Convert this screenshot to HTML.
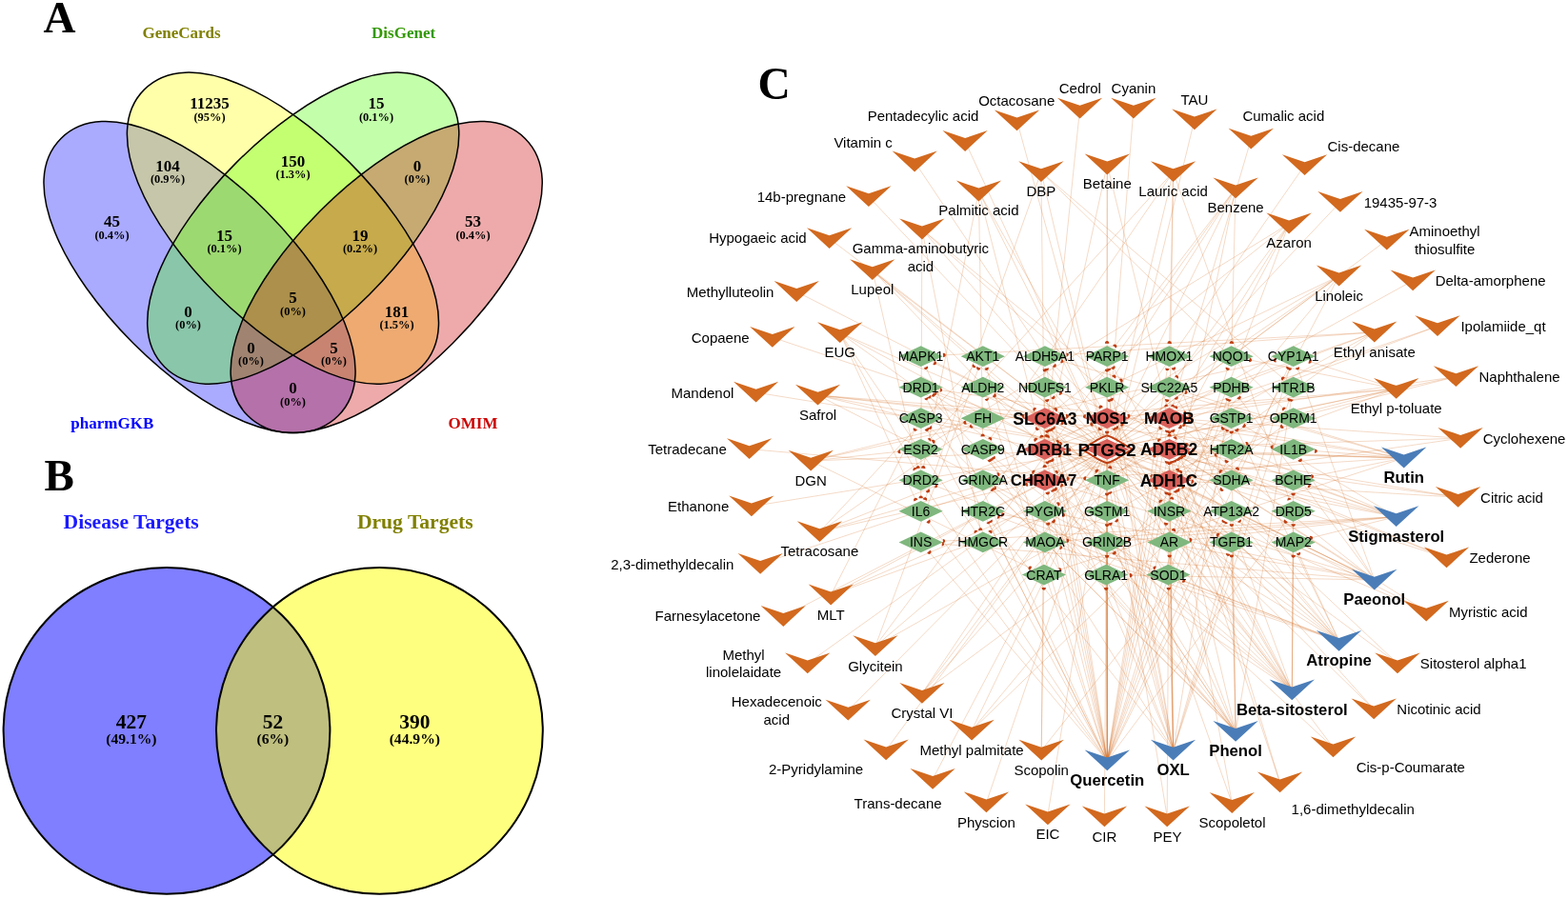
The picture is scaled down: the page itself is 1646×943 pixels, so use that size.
<!DOCTYPE html>
<html><head><meta charset="utf-8"><title>Figure</title>
<style>html,body{margin:0;padding:0;background:#fff;}svg{display:block;}</style></head>
<body><svg width="1646" height="943" viewBox="0 0 1646 943">
<rect width="1646" height="943" fill="#fff"/>
<path d="M-205.85 0C-205.85 -131.13 205.85 -131.13 205.85 0C205.85 131.13 -205.85 131.13 -205.85 0Z" transform="translate(209.52 291.0) rotate(45)" fill="#0000ff" fill-opacity="0.333" stroke="none"/>
<path d="M-205.85 0C-205.85 -131.13 205.85 -131.13 205.85 0C205.85 131.13 -205.85 131.13 -205.85 0Z" transform="translate(296.95 239.68) rotate(45)" fill="#ffff00" fill-opacity="0.333" stroke="none"/>
<path d="M-205.85 0C-205.85 -131.13 205.85 -131.13 205.85 0C205.85 131.13 -205.85 131.13 -205.85 0Z" transform="translate(318.25000000000006 239.68) rotate(-45)" fill="#4cff00" fill-opacity="0.333" stroke="none"/>
<path d="M-205.85 0C-205.85 -131.13 205.85 -131.13 205.85 0C205.85 131.13 -205.85 131.13 -205.85 0Z" transform="translate(405.68000000000006 291.0) rotate(-45)" fill="#cc0000" fill-opacity="0.333" stroke="none"/>
<path d="M-205.85 0C-205.85 -131.13 205.85 -131.13 205.85 0C205.85 131.13 -205.85 131.13 -205.85 0Z" transform="translate(209.52 291.0) rotate(45)" fill="none" stroke="#000" stroke-width="1.5"/>
<path d="M-205.85 0C-205.85 -131.13 205.85 -131.13 205.85 0C205.85 131.13 -205.85 131.13 -205.85 0Z" transform="translate(296.95 239.68) rotate(45)" fill="none" stroke="#000" stroke-width="1.5"/>
<path d="M-205.85 0C-205.85 -131.13 205.85 -131.13 205.85 0C205.85 131.13 -205.85 131.13 -205.85 0Z" transform="translate(318.25000000000006 239.68) rotate(-45)" fill="none" stroke="#000" stroke-width="1.5"/>
<path d="M-205.85 0C-205.85 -131.13 205.85 -131.13 205.85 0C205.85 131.13 -205.85 131.13 -205.85 0Z" transform="translate(405.68000000000006 291.0) rotate(-45)" fill="none" stroke="#000" stroke-width="1.5"/>
<text x="62.6" y="33.9" font-family='"Liberation Serif", "Times New Roman", Times, serif' font-size="47" font-weight="bold" fill="#000" text-anchor="middle">A</text>
<text x="62.2" y="514.9" font-family='"Liberation Serif", "Times New Roman", Times, serif' font-size="47" font-weight="bold" fill="#000" text-anchor="middle">B</text>
<text x="812.6" y="103.7" font-family='"Liberation Serif", "Times New Roman", Times, serif' font-size="47.5" font-weight="bold" fill="#000" text-anchor="middle">C</text>
<text x="190.5" y="39.7" font-family='"Liberation Serif", "Times New Roman", Times, serif' font-size="17" font-weight="bold" fill="#808000" text-anchor="middle">GeneCards</text>
<text x="423.6" y="39.7" font-family='"Liberation Serif", "Times New Roman", Times, serif' font-size="17" font-weight="bold" fill="#339900" text-anchor="middle">DisGenet</text>
<text x="117.8" y="449.6" font-family='"Liberation Serif", "Times New Roman", Times, serif' font-size="17" font-weight="bold" fill="#0000ff" text-anchor="middle">pharmGKB</text>
<text x="496.5" y="449.6" font-family='"Liberation Serif", "Times New Roman", Times, serif' font-size="17" font-weight="bold" fill="#cc0000" text-anchor="middle">OMIM</text>
<text x="220.0" y="113.8" font-family='"Liberation Serif", "Times New Roman", Times, serif' font-size="17" font-weight="bold" fill="#000" text-anchor="middle">11235</text>
<text x="220.0" y="126.6" font-family='"Liberation Serif", "Times New Roman", Times, serif' font-size="12.4" font-weight="bold" fill="#000" text-anchor="middle">(95%)</text>
<text x="395.0" y="113.8" font-family='"Liberation Serif", "Times New Roman", Times, serif' font-size="17" font-weight="bold" fill="#000" text-anchor="middle">15</text>
<text x="395.0" y="126.6" font-family='"Liberation Serif", "Times New Roman", Times, serif' font-size="12.4" font-weight="bold" fill="#000" text-anchor="middle">(0.1%)</text>
<text x="176.0" y="179.5" font-family='"Liberation Serif", "Times New Roman", Times, serif' font-size="17" font-weight="bold" fill="#000" text-anchor="middle">104</text>
<text x="176.0" y="192.3" font-family='"Liberation Serif", "Times New Roman", Times, serif' font-size="12.4" font-weight="bold" fill="#000" text-anchor="middle">(0.9%)</text>
<text x="307.5" y="174.5" font-family='"Liberation Serif", "Times New Roman", Times, serif' font-size="17" font-weight="bold" fill="#000" text-anchor="middle">150</text>
<text x="307.5" y="187.3" font-family='"Liberation Serif", "Times New Roman", Times, serif' font-size="12.4" font-weight="bold" fill="#000" text-anchor="middle">(1.3%)</text>
<text x="438.0" y="179.5" font-family='"Liberation Serif", "Times New Roman", Times, serif' font-size="17" font-weight="bold" fill="#000" text-anchor="middle">0</text>
<text x="438.0" y="192.3" font-family='"Liberation Serif", "Times New Roman", Times, serif' font-size="12.4" font-weight="bold" fill="#000" text-anchor="middle">(0%)</text>
<text x="117.5" y="238.0" font-family='"Liberation Serif", "Times New Roman", Times, serif' font-size="17" font-weight="bold" fill="#000" text-anchor="middle">45</text>
<text x="117.5" y="250.8" font-family='"Liberation Serif", "Times New Roman", Times, serif' font-size="12.4" font-weight="bold" fill="#000" text-anchor="middle">(0.4%)</text>
<text x="235.5" y="252.5" font-family='"Liberation Serif", "Times New Roman", Times, serif' font-size="17" font-weight="bold" fill="#000" text-anchor="middle">15</text>
<text x="235.5" y="265.3" font-family='"Liberation Serif", "Times New Roman", Times, serif' font-size="12.4" font-weight="bold" fill="#000" text-anchor="middle">(0.1%)</text>
<text x="378.0" y="252.5" font-family='"Liberation Serif", "Times New Roman", Times, serif' font-size="17" font-weight="bold" fill="#000" text-anchor="middle">19</text>
<text x="378.0" y="265.3" font-family='"Liberation Serif", "Times New Roman", Times, serif' font-size="12.4" font-weight="bold" fill="#000" text-anchor="middle">(0.2%)</text>
<text x="496.5" y="238.0" font-family='"Liberation Serif", "Times New Roman", Times, serif' font-size="17" font-weight="bold" fill="#000" text-anchor="middle">53</text>
<text x="496.5" y="250.8" font-family='"Liberation Serif", "Times New Roman", Times, serif' font-size="12.4" font-weight="bold" fill="#000" text-anchor="middle">(0.4%)</text>
<text x="307.5" y="318.0" font-family='"Liberation Serif", "Times New Roman", Times, serif' font-size="17" font-weight="bold" fill="#000" text-anchor="middle">5</text>
<text x="307.5" y="330.8" font-family='"Liberation Serif", "Times New Roman", Times, serif' font-size="12.4" font-weight="bold" fill="#000" text-anchor="middle">(0%)</text>
<text x="197.5" y="332.5" font-family='"Liberation Serif", "Times New Roman", Times, serif' font-size="17" font-weight="bold" fill="#000" text-anchor="middle">0</text>
<text x="197.5" y="345.3" font-family='"Liberation Serif", "Times New Roman", Times, serif' font-size="12.4" font-weight="bold" fill="#000" text-anchor="middle">(0%)</text>
<text x="416.5" y="332.5" font-family='"Liberation Serif", "Times New Roman", Times, serif' font-size="17" font-weight="bold" fill="#000" text-anchor="middle">181</text>
<text x="416.5" y="345.3" font-family='"Liberation Serif", "Times New Roman", Times, serif' font-size="12.4" font-weight="bold" fill="#000" text-anchor="middle">(1.5%)</text>
<text x="263.5" y="370.5" font-family='"Liberation Serif", "Times New Roman", Times, serif' font-size="17" font-weight="bold" fill="#000" text-anchor="middle">0</text>
<text x="263.5" y="383.3" font-family='"Liberation Serif", "Times New Roman", Times, serif' font-size="12.4" font-weight="bold" fill="#000" text-anchor="middle">(0%)</text>
<text x="350.5" y="370.5" font-family='"Liberation Serif", "Times New Roman", Times, serif' font-size="17" font-weight="bold" fill="#000" text-anchor="middle">5</text>
<text x="350.5" y="383.3" font-family='"Liberation Serif", "Times New Roman", Times, serif' font-size="12.4" font-weight="bold" fill="#000" text-anchor="middle">(0%)</text>
<text x="307.5" y="413.0" font-family='"Liberation Serif", "Times New Roman", Times, serif' font-size="17" font-weight="bold" fill="#000" text-anchor="middle">0</text>
<text x="307.5" y="425.8" font-family='"Liberation Serif", "Times New Roman", Times, serif' font-size="12.4" font-weight="bold" fill="#000" text-anchor="middle">(0%)</text>
<circle cx="175" cy="767.4" r="171.4" fill="#0000ff" fill-opacity="0.5"/>
<circle cx="398.4" cy="767.4" r="171.4" fill="#ffff00" fill-opacity="0.5"/>
<circle cx="175" cy="767.4" r="171.4" fill="none" stroke="#000" stroke-width="2"/>
<circle cx="398.4" cy="767.4" r="171.4" fill="none" stroke="#000" stroke-width="2"/>
<text x="137.7" y="555.3" font-family='"Liberation Serif", "Times New Roman", Times, serif' font-size="21.6" font-weight="bold" fill="#1a1aff" text-anchor="middle">Disease Targets</text>
<text x="435.8" y="555.3" font-family='"Liberation Serif", "Times New Roman", Times, serif' font-size="21.6" font-weight="bold" fill="#808000" text-anchor="middle">Drug Targets</text>
<text x="137.9" y="764.9" font-family='"Liberation Serif", "Times New Roman", Times, serif' font-size="21.4" font-weight="bold" fill="#000" text-anchor="middle">427</text>
<text x="137.9" y="781.0" font-family='"Liberation Serif", "Times New Roman", Times, serif' font-size="15.6" font-weight="bold" fill="#000" text-anchor="middle">(49.1%)</text>
<text x="286.4" y="764.9" font-family='"Liberation Serif", "Times New Roman", Times, serif' font-size="21.4" font-weight="bold" fill="#000" text-anchor="middle">52</text>
<text x="286.4" y="781.0" font-family='"Liberation Serif", "Times New Roman", Times, serif' font-size="15.6" font-weight="bold" fill="#000" text-anchor="middle">(6%)</text>
<text x="435.3" y="764.9" font-family='"Liberation Serif", "Times New Roman", Times, serif' font-size="21.4" font-weight="bold" fill="#000" text-anchor="middle">390</text>
<text x="435.3" y="781.0" font-family='"Liberation Serif", "Times New Roman", Times, serif' font-size="15.6" font-weight="bold" fill="#000" text-anchor="middle">(44.9%)</text>
<g fill="none" stroke="#D2691E" stroke-opacity="0.42" stroke-width="0.6">
<path d="M1067.5 126.7L1158.5 458.7"/>
<path d="M1133.6 114.0L1098.3 457.8"/>
<path d="M1189.9 114.0L1163.2 457.7"/>
<path d="M1253.9 125.8L1165.3 491.0"/>
<path d="M1313.3 146.1L1231.2 426.2"/>
<path d="M1369.6 173.5L1169.9 460.6"/>
<path d="M1406.9 212.3L1171.7 461.6"/>
<path d="M1455.8 252.1L1173.9 463.0"/>
<path d="M1483.2 294.7L1175.9 464.2"/>
<path d="M1509.0 342.5L1244.2 433.4M1509.0 342.5L1178.4 465.7"/>
<path d="M1528.4 395.6L1245.9 467.1M1528.4 395.6L1248.6 436.1M1528.4 395.6L1181.7 467.7"/>
<path d="M1533.1 460.2L1248.7 501.2M1533.1 460.2L1251.2 440.8M1533.1 460.2L1187.4 471.0"/>
<path d="M1530.6 522.2L1251.5 505.7M1530.6 522.2L1248.0 475.2M1530.6 522.2L1183.6 474.7"/>
<path d="M1518.5 585.8L1243.4 478.1M1518.5 585.8L1177.8 445.6M1518.5 585.8L1179.3 477.3"/>
<path d="M1497.2 642.0L1112.4 478.4M1497.2 642.0L1240.3 480.0M1497.2 642.0L1176.4 479.1"/>
<path d="M1467.0 696.7L1237.8 481.5M1467.0 696.7L1174.0 480.6"/>
<path d="M1442.2 744.8L1236.6 514.7M1442.2 744.8L1172.2 481.7"/>
<path d="M1399.5 784.8L1107.3 514.0M1399.5 784.8L1170.4 482.7"/>
<path d="M1343.6 821.7L1231.7 484.6M1343.6 821.7L1231.3 452.2"/>
<path d="M1293.3 843.4L1229.8 485.4M1293.3 843.4L1166.6 484.5"/>
<path d="M1225.2 857.7L1227.3 486.3M1225.2 857.7L1164.3 485.5"/>
<path d="M1159.4 857.7L1162.0 486.3"/>
<path d="M1099.9 855.8L1159.9 485.5"/>
<path d="M1035.4 842.7L1157.7 484.6"/>
<path d="M979.1 818.2L1155.8 483.7"/>
<path d="M930.1 787.7L1154.0 482.8"/>
<path d="M890.3 746.0L1152.2 481.8"/>
<path d="M847.7 696.7L1150.0 480.5"/>
<path d="M822.3 647.4L1147.9 479.2"/>
<path d="M798.1 592.2L1145.1 477.4"/>
<path d="M788.9 531.7L1141.3 475.1"/>
<path d="M786.6 471.6L1139.0 502.3"/>
<path d="M793.6 412.1L1141.4 468.4"/>
<path d="M810.8 354.3L1145.2 466.1"/>
<path d="M836.2 306.4L1147.8 464.5"/>
<path d="M870.6 250.5L1150.4 462.9"/>
<path d="M911.9 206.6L1152.5 461.6"/>
<path d="M960.1 169.9L1154.6 460.5"/>
<path d="M1013.1 148.4L1156.5 459.6"/>
<path d="M1092.9 180.5L1096.7 489.9M1092.9 180.5L1346.7 397.3M1092.9 180.5L971.1 524.1M1092.9 180.5L1347.6 429.3M1092.9 180.5L1158.9 458.5"/>
<path d="M1162.3 172.9L1099.8 458.4M1162.3 172.9L1224.2 425.9M1162.3 172.9L1162.1 359.7M1162.3 172.9L1162.1 457.3"/>
<path d="M1231.6 180.5L1227.6 457.4M1231.6 180.5L1039.5 460.6M1231.6 180.5L1353.2 524.1M1231.6 180.5L976.0 461.5M1231.6 180.5L1227.7 359.8M1231.6 180.5L1165.3 458.5"/>
<path d="M1297.1 197.7L1039.7 558.3M1297.1 197.7L1230.2 523.3M1297.1 197.7L1293.0 359.8M1297.1 197.7L1170.4 363.3M1297.1 197.7L1169.4 395.3M1297.1 197.7L1168.0 459.7"/>
<path d="M1353.1 234.9L1233.7 459.9M1353.1 234.9L1232.1 556.8M1353.1 234.9L979.7 463.8M1353.1 234.9L1234.5 427.7M1353.1 234.9L1235.5 395.7M1353.1 234.9L1108.3 430.1"/>
<path d="M1405.6 289.9L1236.2 493.7M1405.6 289.9L1110.3 463.9M1405.6 289.9L1109.2 495.8M1405.6 289.9L1176.8 399.6M1405.6 289.9L1173.9 463.0M1405.6 289.9L1298.9 492.4"/>
<path d="M1442.8 348.9L1239.5 495.6M1442.8 348.9L1113.5 465.9M1442.8 348.9L1120.5 372.5M1442.8 348.9L1048.0 498.2M1442.8 348.9L991.0 372.9M1442.8 348.9L1110.8 529.2"/>
<path d="M1465.7 408.3L1115.3 499.5M1465.7 408.3L1375.0 379.7M1465.7 408.3L1309.0 465.8M1465.7 408.3L1184.7 436.9M1465.7 408.3L1312.4 378.1M1465.7 408.3L1181.6 467.7M1465.7 408.3L1120.1 437.3"/>
<path d="M1027.4 200.9L1093.5 458.6M1027.4 200.9L1031.6 457.4M1027.4 200.9L969.3 490.8M1027.4 200.9L1155.5 427.5M1027.4 200.9L1156.1 459.7"/>
<path d="M967.9 240.9L1216.7 462.3M967.9 240.9L1029.2 555.9M967.9 240.9L966.7 522.3M967.9 240.9L1218.3 526.4M967.9 240.9L1281.3 495.1"/>
<path d="M915.8 283.5L1087.2 461.7M915.8 283.5L963.5 491.0M915.8 283.5L1150.4 462.9M915.8 283.5L1086.0 429.8M915.8 283.5L1151.5 494.8"/>
<path d="M881.7 349.5L1084.8 495.6M881.7 349.5L960.1 492.5M881.7 349.5L1024.1 558.2M881.7 349.5L961.0 524.5M881.7 349.5L1146.8 465.1M881.7 349.5L1278.6 561.9"/>
<path d="M858.5 415.0L1208.6 499.8M858.5 415.0L1335.5 469.3M858.5 415.0L1138.7 437.3M858.5 415.0L1142.0 468.0M858.5 415.0L1074.3 436.9M858.5 415.0L1212.1 596.3"/>
<path d="M851.2 484.0L1081.3 596.5M851.2 484.0L1338.4 378.4M851.2 484.0L944.1 474.2M851.2 484.0L1013.2 443.8M851.2 484.0L1137.2 472.8"/>
<path d="M860.4 558.5L1022.3 384.4M860.4 558.5L1077.8 508.7M860.4 558.5L1019.5 447.8M860.4 558.5L1146.2 445.5M860.4 558.5L1144.3 476.9"/>
<path d="M872.2 624.9L1212.0 478.4M872.2 624.9L960.5 451.2M872.2 624.9L1276.2 477.8M872.2 624.9L1148.0 479.2"/>
<path d="M918.9 678.6L1213.8 512.0M918.9 678.6L1027.1 386.9M918.9 678.6L1151.1 481.1M918.9 678.6L1088.8 450.2"/>
<path d="M967.9 728.2L1218.1 449.5M967.9 728.2L1154.5 450.5M967.9 728.2L1345.8 448.0M967.9 728.2L1153.8 482.7"/>
<path d="M1020.1 767.0L1283.8 449.8M1020.1 767.0L1156.3 483.9M1020.1 767.0L1282.4 514.1"/>
<path d="M1093.2 788.0L1096.8 388.7M1093.2 788.0L1284.1 547.5M1093.2 788.0L1095.7 618.0"/>
<path d="M1473.7 480.9L1122.5 472.4M1473.7 480.9L1252.4 472.7M1473.7 480.9L1114.8 379.3M1473.7 480.9L1377.4 500.3M1473.7 480.9L1120.9 502.8M1473.7 480.9L1113.0 598.0M1473.7 480.9L987.8 409.8M1473.7 480.9L1381.1 473.6M1473.7 480.9L1247.9 442.7M1473.7 480.9L1187.5 472.5M1473.7 480.9L1244.9 412.0"/>
<path d="M1465.7 542.6L1116.9 475.6M1465.7 542.6L1249.6 566.9M1465.7 542.6L1374.3 510.2M1465.7 542.6L1185.1 567.4M1465.7 542.6L1305.9 447.1M1465.7 542.6L990.9 568.1M1465.7 542.6L1120.5 567.7M1465.7 542.6L1242.7 445.9M1465.7 542.6L1376.3 564.8M1465.7 542.6L1113.2 412.7M1465.7 542.6L1181.1 476.2M1465.7 542.6L1114.9 444.2"/>
<path d="M1442.8 609.0L1242.0 511.4M1442.8 609.0L1240.3 480.0M1442.8 609.0L1114.4 509.6M1442.8 609.0L1362.3 386.9M1442.8 609.0L982.1 413.3M1442.8 609.0L1186.9 604.1M1442.8 609.0L1052.2 540.4M1442.8 609.0L1364.8 483.3M1442.8 609.0L989.8 571.3M1442.8 609.0L1238.9 448.2M1442.8 609.0L981.1 381.4M1442.8 609.0L1300.7 417.7M1442.8 609.0L1176.7 478.9M1442.8 609.0L1116.4 540.9"/>
<path d="M1405.6 673.2L1236.6 482.2M1405.6 673.2L1043.9 415.3M1405.6 673.2L1107.1 384.0M1405.6 673.2L1301.4 547.4M1405.6 673.2L979.8 414.7M1405.6 673.2L982.7 510.5M1405.6 673.2L1298.5 451.3M1405.6 673.2L1048.2 542.8M1405.6 673.2L1113.8 575.1M1405.6 673.2L1363.3 581.6M1405.6 673.2L1172.3 449.0M1405.6 673.2L1173.3 481.0M1405.6 673.2L1234.9 418.0M1405.6 673.2L1242.4 609.8"/>
<path d="M1356.3 724.7L1234.2 516.0M1356.3 724.7L1233.5 483.8M1356.3 724.7L1357.6 518.8M1356.3 724.7L1043.4 480.8M1356.3 724.7L1107.9 513.6M1356.3 724.7L1357.6 551.3M1356.3 724.7L1044.2 512.8M1356.3 724.7L1172.3 546.6M1356.3 724.7L1232.1 386.9M1356.3 724.7L1357.6 583.9M1356.3 724.7L1105.6 417.4M1356.3 724.7L1169.7 450.4M1356.3 724.7L1168.6 386.0M1356.3 724.7L1170.4 482.7M1356.3 724.7L1106.3 449.5"/>
<path d="M1297.1 768.3L1104.5 483.0M1297.1 768.3L1230.5 485.1M1297.1 768.3L1292.9 551.2M1297.1 768.3L976.6 449.1M1297.1 768.3L1041.1 482.1M1297.1 768.3L1105.2 515.2M1297.1 768.3L976.0 417.0M1297.1 768.3L1041.8 514.2M1297.1 768.3L1169.7 580.6M1297.1 768.3L1292.8 453.6M1297.1 768.3L1355.4 420.4M1297.1 768.3L1166.8 419.3M1297.1 768.3L1167.7 484.0M1297.1 768.3L1105.9 547.3M1297.1 768.3L1103.9 450.7M1297.1 768.3L1292.9 583.8"/>
<path d="M1231.6 788.0L1227.6 518.7M1231.6 788.0L1102.2 484.2M1231.6 788.0L1227.6 486.2M1231.6 788.0L1227.7 583.8M1231.6 788.0L1039.0 483.2M1231.6 788.0L1353.7 387.2M1231.6 788.0L1165.7 549.9M1231.6 788.0L1353.5 419.5M1231.6 788.0L1040.3 547.5M1231.6 788.0L1227.6 453.6M1231.6 788.0L1164.4 387.8M1231.6 788.0L1290.4 420.4M1231.6 788.0L1164.6 420.3M1231.6 788.0L1165.0 485.2M1231.6 788.0L1101.8 451.8M1231.6 788.0L1226.8 618.0M1231.6 788.0L1288.9 582.5M1231.6 788.0L1165.4 517.6"/>
<path d="M1162.3 798.8L1224.4 517.7M1162.3 798.8L1099.6 485.3M1162.3 798.8L1224.7 485.3M1162.3 798.8L1035.8 387.2M1162.3 798.8L1036.1 419.5M1162.3 798.8L1099.0 387.9M1162.3 798.8L1286.6 548.9M1162.3 798.8L973.0 451.0M1162.3 798.8L1099.9 517.7M1162.3 798.8L1352.1 386.4M1162.3 798.8L972.6 418.7M1162.3 798.8L974.1 515.6M1162.3 798.8L1349.5 547.7M1162.3 798.8L1161.2 618.1M1162.3 798.8L1162.1 583.9M1162.3 798.8L1162.1 551.3M1162.3 798.8L1288.0 451.9M1162.3 798.8L1225.3 387.9M1162.3 798.8L1287.6 484.3M1162.3 798.8L1037.8 548.8M1162.3 798.8L974.8 547.7M1162.3 798.8L975.6 579.9M1162.3 798.8L1224.1 550.0M1162.3 798.8L1224.9 452.8M1162.3 798.8L972.2 386.4M1162.3 798.8L1099.2 420.4M1162.3 798.8L1162.1 453.7M1162.3 798.8L1288.6 387.2M1162.3 798.8L1162.1 388.7M1162.3 798.8L1288.3 419.5M1162.3 798.8L1162.1 486.3M1162.3 798.8L1100.2 550.0M1162.3 798.8L1225.1 420.4M1162.3 798.8L1099.4 452.8M1162.3 798.8L1162.1 518.8"/>
</g>
<path d="M1043.8 115.4L1067.5 123.4L1091.2 115.4L1067.5 137.2Z" fill="#D2691E"/>
<path d="M1109.9 102.7L1133.6 110.7L1157.2 102.7L1133.6 124.5Z" fill="#D2691E"/>
<path d="M1166.2 102.7L1189.9 110.7L1213.6 102.7L1189.9 124.5Z" fill="#D2691E"/>
<path d="M1230.2 114.5L1253.9 122.5L1277.6 114.5L1253.9 136.3Z" fill="#D2691E"/>
<path d="M1289.6 134.8L1313.3 142.8L1337.0 134.8L1313.3 156.6Z" fill="#D2691E"/>
<path d="M1345.9 162.2L1369.6 170.2L1393.2 162.2L1369.6 184.0Z" fill="#D2691E"/>
<path d="M1383.2 201.0L1406.9 209.0L1430.6 201.0L1406.9 222.8Z" fill="#D2691E"/>
<path d="M1432.1 240.8L1455.8 248.8L1479.5 240.8L1455.8 262.6Z" fill="#D2691E"/>
<path d="M1459.5 283.4L1483.2 291.4L1506.9 283.4L1483.2 305.2Z" fill="#D2691E"/>
<path d="M1485.3 331.2L1509.0 339.2L1532.7 331.2L1509.0 353.0Z" fill="#D2691E"/>
<path d="M1504.8 384.3L1528.4 392.3L1552.1 384.3L1528.4 406.1Z" fill="#D2691E"/>
<path d="M1509.4 448.9L1533.1 456.9L1556.8 448.9L1533.1 470.7Z" fill="#D2691E"/>
<path d="M1506.9 510.9L1530.6 518.9L1554.2 510.9L1530.6 532.7Z" fill="#D2691E"/>
<path d="M1494.8 574.5L1518.5 582.5L1542.2 574.5L1518.5 596.3Z" fill="#D2691E"/>
<path d="M1473.5 630.7L1497.2 638.7L1520.9 630.7L1497.2 652.5Z" fill="#D2691E"/>
<path d="M1443.3 685.4L1467.0 693.4L1490.7 685.4L1467.0 707.2Z" fill="#D2691E"/>
<path d="M1418.5 733.5L1442.2 741.5L1465.9 733.5L1442.2 755.3Z" fill="#D2691E"/>
<path d="M1375.8 773.5L1399.5 781.5L1423.2 773.5L1399.5 795.3Z" fill="#D2691E"/>
<path d="M1319.9 810.4L1343.6 818.4L1367.2 810.4L1343.6 832.2Z" fill="#D2691E"/>
<path d="M1269.6 832.1L1293.3 840.1L1317.0 832.1L1293.3 853.9Z" fill="#D2691E"/>
<path d="M1201.5 846.4L1225.2 854.4L1248.9 846.4L1225.2 868.2Z" fill="#D2691E"/>
<path d="M1135.8 846.4L1159.4 854.4L1183.1 846.4L1159.4 868.2Z" fill="#D2691E"/>
<path d="M1076.2 844.5L1099.9 852.5L1123.6 844.5L1099.9 866.3Z" fill="#D2691E"/>
<path d="M1011.8 831.4L1035.4 839.4L1059.1 831.4L1035.4 853.2Z" fill="#D2691E"/>
<path d="M955.5 806.9L979.1 814.9L1002.8 806.9L979.1 828.7Z" fill="#D2691E"/>
<path d="M906.5 776.4L930.1 784.4L953.8 776.4L930.1 798.2Z" fill="#D2691E"/>
<path d="M866.6 734.7L890.3 742.7L913.9 734.7L890.3 756.5Z" fill="#D2691E"/>
<path d="M824.1 685.4L847.7 693.4L871.4 685.4L847.7 707.2Z" fill="#D2691E"/>
<path d="M798.6 636.1L822.3 644.1L845.9 636.1L822.3 657.9Z" fill="#D2691E"/>
<path d="M774.5 580.9L798.1 588.9L821.8 580.9L798.1 602.7Z" fill="#D2691E"/>
<path d="M765.2 520.4L788.9 528.4L812.5 520.4L788.9 542.2Z" fill="#D2691E"/>
<path d="M763.0 460.3L786.6 468.3L810.2 460.3L786.6 482.1Z" fill="#D2691E"/>
<path d="M770.0 400.8L793.6 408.8L817.2 400.8L793.6 422.6Z" fill="#D2691E"/>
<path d="M787.1 343.0L810.8 351.0L834.4 343.0L810.8 364.8Z" fill="#D2691E"/>
<path d="M812.6 295.1L836.2 303.1L859.9 295.1L836.2 316.9Z" fill="#D2691E"/>
<path d="M847.0 239.2L870.6 247.2L894.2 239.2L870.6 261.0Z" fill="#D2691E"/>
<path d="M888.2 195.3L911.9 203.3L935.5 195.3L911.9 217.1Z" fill="#D2691E"/>
<path d="M936.5 158.6L960.1 166.6L983.8 158.6L960.1 180.4Z" fill="#D2691E"/>
<path d="M989.5 137.1L1013.1 145.1L1036.8 137.1L1013.1 158.9Z" fill="#D2691E"/>
<path d="M1069.2 169.2L1092.9 177.2L1116.6 169.2L1092.9 191.0Z" fill="#D2691E"/>
<path d="M1138.6 161.6L1162.3 169.6L1186.0 161.6L1162.3 183.4Z" fill="#D2691E"/>
<path d="M1207.9 169.2L1231.6 177.2L1255.2 169.2L1231.6 191.0Z" fill="#D2691E"/>
<path d="M1273.4 186.4L1297.1 194.4L1320.8 186.4L1297.1 208.2Z" fill="#D2691E"/>
<path d="M1329.4 223.6L1353.1 231.6L1376.8 223.6L1353.1 245.4Z" fill="#D2691E"/>
<path d="M1381.9 278.6L1405.6 286.6L1429.2 278.6L1405.6 300.4Z" fill="#D2691E"/>
<path d="M1419.1 337.6L1442.8 345.6L1466.5 337.6L1442.8 359.4Z" fill="#D2691E"/>
<path d="M1442.0 397.0L1465.7 405.0L1489.4 397.0L1465.7 418.8Z" fill="#D2691E"/>
<path d="M1450.0 469.6L1473.7 477.6L1497.4 469.6L1473.7 491.4Z" fill="#4A7DB8"/>
<path d="M1442.0 531.3L1465.7 539.3L1489.4 531.3L1465.7 553.1Z" fill="#4A7DB8"/>
<path d="M1419.1 597.7L1442.8 605.7L1466.5 597.7L1442.8 619.5Z" fill="#4A7DB8"/>
<path d="M1381.9 661.9L1405.6 669.9L1429.2 661.9L1405.6 683.7Z" fill="#4A7DB8"/>
<path d="M1332.6 713.4L1356.3 721.4L1380.0 713.4L1356.3 735.2Z" fill="#4A7DB8"/>
<path d="M1273.4 757.0L1297.1 765.0L1320.8 757.0L1297.1 778.8Z" fill="#4A7DB8"/>
<path d="M1207.9 776.7L1231.6 784.7L1255.2 776.7L1231.6 798.5Z" fill="#4A7DB8"/>
<path d="M1138.6 787.5L1162.3 795.5L1186.0 787.5L1162.3 809.3Z" fill="#4A7DB8"/>
<path d="M1069.5 776.7L1093.2 784.7L1116.9 776.7L1093.2 798.5Z" fill="#D2691E"/>
<path d="M996.5 755.7L1020.1 763.7L1043.8 755.7L1020.1 777.5Z" fill="#D2691E"/>
<path d="M944.2 716.9L967.9 724.9L991.5 716.9L967.9 738.7Z" fill="#D2691E"/>
<path d="M895.2 667.3L918.9 675.3L942.5 667.3L918.9 689.1Z" fill="#D2691E"/>
<path d="M848.6 613.6L872.2 621.6L895.9 613.6L872.2 635.4Z" fill="#D2691E"/>
<path d="M836.8 547.2L860.4 555.2L884.0 547.2L860.4 569.0Z" fill="#D2691E"/>
<path d="M827.6 472.7L851.2 480.7L874.9 472.7L851.2 494.5Z" fill="#D2691E"/>
<path d="M834.9 403.7L858.5 411.7L882.1 403.7L858.5 425.5Z" fill="#D2691E"/>
<path d="M858.1 338.2L881.7 346.2L905.4 338.2L881.7 360.0Z" fill="#D2691E"/>
<path d="M892.1 272.2L915.8 280.2L939.4 272.2L915.8 294.0Z" fill="#D2691E"/>
<path d="M944.2 229.6L967.9 237.6L991.5 229.6L967.9 251.4Z" fill="#D2691E"/>
<path d="M1003.8 189.6L1027.4 197.6L1051.1 189.6L1027.4 211.4Z" fill="#D2691E"/>
<path d="M943.5 374.2L966.6 363.3L989.7 374.2L966.6 385.1Z" fill="#7FB77E"/>
<path d="M1008.7 374.2L1031.8 363.3L1054.9 374.2L1031.8 385.1Z" fill="#7FB77E"/>
<path d="M1073.8 374.2L1096.9 363.3L1120.0 374.2L1096.9 385.1Z" fill="#7FB77E"/>
<path d="M1139.0 374.2L1162.1 363.3L1185.2 374.2L1162.1 385.1Z" fill="#7FB77E"/>
<path d="M1204.3 374.2L1227.4 363.3L1250.5 374.2L1227.4 385.1Z" fill="#7FB77E"/>
<path d="M1269.5 374.2L1292.6 363.3L1315.7 374.2L1292.6 385.1Z" fill="#7FB77E"/>
<path d="M1334.6 374.2L1357.7 363.3L1380.8 374.2L1357.7 385.1Z" fill="#7FB77E"/>
<path d="M943.5 406.7L966.6 395.8L989.7 406.7L966.6 417.6Z" fill="#7FB77E"/>
<path d="M1008.7 406.7L1031.8 395.8L1054.9 406.7L1031.8 417.6Z" fill="#7FB77E"/>
<path d="M1073.8 406.7L1096.9 395.8L1120.0 406.7L1096.9 417.6Z" fill="#7FB77E"/>
<path d="M1139.0 406.7L1162.1 395.8L1185.2 406.7L1162.1 417.6Z" fill="#7FB77E"/>
<path d="M1204.3 406.7L1227.4 395.8L1250.5 406.7L1227.4 417.6Z" fill="#7FB77E"/>
<path d="M1269.5 406.7L1292.6 395.8L1315.7 406.7L1292.6 417.6Z" fill="#7FB77E"/>
<path d="M1334.6 406.7L1357.7 395.8L1380.8 406.7L1357.7 417.6Z" fill="#7FB77E"/>
<path d="M943.5 439.2L966.6 428.3L989.7 439.2L966.6 450.1Z" fill="#7FB77E"/>
<path d="M1008.7 439.2L1031.8 428.3L1054.9 439.2L1031.8 450.1Z" fill="#7FB77E"/>
<path d="M1073.8 439.2L1096.9 428.3L1120.0 439.2L1096.9 450.1Z" fill="#D9605A"/>
<path d="M1139.0 439.2L1162.1 428.3L1185.2 439.2L1162.1 450.1Z" fill="#D9605A"/>
<path d="M1204.3 439.2L1227.4 428.3L1250.5 439.2L1227.4 450.1Z" fill="#D9605A"/>
<path d="M1269.5 439.2L1292.6 428.3L1315.7 439.2L1292.6 450.1Z" fill="#7FB77E"/>
<path d="M1334.6 439.2L1357.7 428.3L1380.8 439.2L1357.7 450.1Z" fill="#7FB77E"/>
<path d="M943.5 471.8L966.6 460.9L989.7 471.8L966.6 482.7Z" fill="#7FB77E"/>
<path d="M1008.7 471.8L1031.8 460.9L1054.9 471.8L1031.8 482.7Z" fill="#7FB77E"/>
<path d="M1073.8 471.8L1096.9 460.9L1120.0 471.8L1096.9 482.7Z" fill="#D9605A"/>
<path d="M1139.0 471.8L1162.1 460.9L1185.2 471.8L1162.1 482.7Z" fill="#D9605A"/>
<path d="M1204.3 471.8L1227.4 460.9L1250.5 471.8L1227.4 482.7Z" fill="#D9605A"/>
<path d="M1269.5 471.8L1292.6 460.9L1315.7 471.8L1292.6 482.7Z" fill="#7FB77E"/>
<path d="M1334.6 471.8L1357.7 460.9L1380.8 471.8L1357.7 482.7Z" fill="#7FB77E"/>
<path d="M943.5 504.3L966.6 493.4L989.7 504.3L966.6 515.2Z" fill="#7FB77E"/>
<path d="M1008.7 504.3L1031.8 493.4L1054.9 504.3L1031.8 515.2Z" fill="#7FB77E"/>
<path d="M1073.8 504.3L1096.9 493.4L1120.0 504.3L1096.9 515.2Z" fill="#D9605A"/>
<path d="M1139.0 504.3L1162.1 493.4L1185.2 504.3L1162.1 515.2Z" fill="#7FB77E"/>
<path d="M1204.3 504.3L1227.4 493.4L1250.5 504.3L1227.4 515.2Z" fill="#D9605A"/>
<path d="M1269.5 504.3L1292.6 493.4L1315.7 504.3L1292.6 515.2Z" fill="#7FB77E"/>
<path d="M1334.6 504.3L1357.7 493.4L1380.8 504.3L1357.7 515.2Z" fill="#7FB77E"/>
<path d="M943.5 536.8L966.6 525.9L989.7 536.8L966.6 547.7Z" fill="#7FB77E"/>
<path d="M1008.7 536.8L1031.8 525.9L1054.9 536.8L1031.8 547.7Z" fill="#7FB77E"/>
<path d="M1073.8 536.8L1096.9 525.9L1120.0 536.8L1096.9 547.7Z" fill="#7FB77E"/>
<path d="M1139.0 536.8L1162.1 525.9L1185.2 536.8L1162.1 547.7Z" fill="#7FB77E"/>
<path d="M1204.3 536.8L1227.4 525.9L1250.5 536.8L1227.4 547.7Z" fill="#7FB77E"/>
<path d="M1269.5 536.8L1292.6 525.9L1315.7 536.8L1292.6 547.7Z" fill="#7FB77E"/>
<path d="M1334.6 536.8L1357.7 525.9L1380.8 536.8L1357.7 547.7Z" fill="#7FB77E"/>
<path d="M943.5 569.4L966.6 558.5L989.7 569.4L966.6 580.3Z" fill="#7FB77E"/>
<path d="M1008.7 569.4L1031.8 558.5L1054.9 569.4L1031.8 580.3Z" fill="#7FB77E"/>
<path d="M1073.8 569.4L1096.9 558.5L1120.0 569.4L1096.9 580.3Z" fill="#7FB77E"/>
<path d="M1139.0 569.4L1162.1 558.5L1185.2 569.4L1162.1 580.3Z" fill="#7FB77E"/>
<path d="M1204.3 569.4L1227.4 558.5L1250.5 569.4L1227.4 580.3Z" fill="#7FB77E"/>
<path d="M1269.5 569.4L1292.6 558.5L1315.7 569.4L1292.6 580.3Z" fill="#7FB77E"/>
<path d="M1334.6 569.4L1357.7 558.5L1380.8 569.4L1357.7 580.3Z" fill="#7FB77E"/>
<path d="M1072.8 603.6L1095.9 592.7L1119.0 603.6L1095.9 614.5Z" fill="#7FB77E"/>
<path d="M1138.0 603.6L1161.1 592.7L1184.2 603.6L1161.1 614.5Z" fill="#7FB77E"/>
<path d="M1203.3 603.6L1226.4 592.7L1249.5 603.6L1226.4 614.5Z" fill="#7FB77E"/>
<path d="M1096.0 458.6A2.2 2.8 6 0 1 1100.4 459.0ZM1162.9 491.5A2.2 2.8 14 0 1 1167.2 492.5ZM1228.8 426.5A2.2 2.8 16 0 1 1233.0 427.7ZM1242.5 431.7A2.2 2.8 71 0 1 1243.9 435.8ZM1244.4 465.2A2.2 2.8 76 0 1 1245.5 469.5ZM1247.3 434.1A2.2 2.8 82 0 1 1248.0 438.4ZM1247.4 499.2A2.2 2.8 82 0 1 1248.0 503.6ZM1250.3 438.6A2.2 2.8 94 0 1 1250.0 443.0ZM1250.7 503.5A2.2 2.8 93 0 1 1250.4 507.9ZM1247.4 472.9A2.2 2.8 99 0 1 1246.7 477.2ZM1243.2 475.6A2.2 2.8 111 0 1 1241.6 479.7ZM1177.7 443.2A2.2 2.8 112 0 1 1176.0 447.3ZM1112.3 476.0A2.2 2.8 113 0 1 1110.6 480.0ZM1240.7 477.6A2.2 2.8 122 0 1 1238.3 481.3ZM1238.5 479.2A2.2 2.8 133 0 1 1235.5 482.4ZM1237.6 512.4A2.2 2.8 138 0 1 1234.3 515.4ZM1108.1 511.7A2.2 2.8 133 0 1 1105.1 514.9ZM1233.4 483.0A2.2 2.8 162 0 1 1229.3 484.4ZM1233.2 450.6A2.2 2.8 163 0 1 1228.9 451.9ZM1231.8 484.0A2.2 2.8 170 0 1 1227.5 484.8ZM1229.5 485.3A2.2 2.8 -180 0 1 1225.1 485.3ZM1139.8 504.6A2.2 2.8 -85 0 1 1140.2 500.2ZM1094.5 490.9A2.2 2.8 -1 0 1 1098.9 490.8ZM1346.1 399.7A2.2 2.8 -49 0 1 1348.9 396.3ZM968.7 524.3A2.2 2.8 20 0 1 972.9 525.7ZM1346.8 431.6A2.2 2.8 -46 0 1 1349.9 428.5ZM1097.5 458.9A2.2 2.8 12 0 1 1101.8 459.9ZM1222.3 427.4A2.2 2.8 -14 0 1 1226.5 426.4ZM1159.9 360.7A2.2 2.8 0 0 1 1164.3 360.7ZM1225.4 458.3A2.2 2.8 1 0 1 1229.8 458.4ZM1037.1 460.2A2.2 2.8 34 0 1 1040.7 462.7ZM1351.5 525.7A2.2 2.8 -19 0 1 1355.6 524.3ZM973.7 460.8A2.2 2.8 42 0 1 976.9 463.7ZM1225.5 360.8A2.2 2.8 1 0 1 1229.9 360.9ZM1037.3 557.9A2.2 2.8 36 0 1 1040.9 560.4ZM1227.8 523.9A2.2 2.8 12 0 1 1232.1 524.8ZM1290.7 360.8A2.2 2.8 1 0 1 1295.1 360.9ZM1168.1 362.8A2.2 2.8 37 0 1 1171.6 365.5ZM1167.1 395.0A2.2 2.8 33 0 1 1170.8 397.4ZM1231.3 459.8A2.2 2.8 28 0 1 1235.2 461.8ZM1229.7 556.9A2.2 2.8 21 0 1 1233.9 558.5ZM977.7 462.4A2.2 2.8 58 0 1 980.0 466.2ZM1232.1 427.4A2.2 2.8 32 0 1 1235.8 429.7ZM1233.1 395.2A2.2 2.8 36 0 1 1236.6 397.8ZM1106.1 429.0A2.2 2.8 51 0 1 1108.9 432.5ZM1233.9 493.1A2.2 2.8 40 0 1 1237.3 495.9ZM1108.3 462.5A2.2 2.8 59 0 1 1110.5 466.3ZM1107.1 494.5A2.2 2.8 55 0 1 1109.6 498.1ZM1174.9 398.1A2.2 2.8 64 0 1 1176.9 402.1ZM1296.5 492.2A2.2 2.8 28 0 1 1300.4 494.3ZM1237.4 494.4A2.2 2.8 54 0 1 1239.9 498.0ZM1111.8 464.2A2.2 2.8 70 0 1 1113.3 468.3ZM1119.3 370.4A2.2 2.8 86 0 1 1119.7 374.7ZM1046.3 496.5A2.2 2.8 69 0 1 1047.8 500.6ZM989.8 370.8A2.2 2.8 87 0 1 990.1 375.2ZM1108.9 527.8A2.2 2.8 61 0 1 1111.0 531.7ZM1113.7 497.6A2.2 2.8 75 0 1 1114.9 501.9ZM1374.7 377.3A2.2 2.8 108 0 1 1373.4 381.5ZM1307.3 464.1A2.2 2.8 70 0 1 1308.8 468.2ZM1183.5 434.8A2.2 2.8 84 0 1 1183.9 439.2ZM1311.9 375.8A2.2 2.8 101 0 1 1311.0 380.1ZM1118.9 435.1A2.2 2.8 85 0 1 1119.3 439.5ZM1091.6 460.1A2.2 2.8 -14 0 1 1095.9 459.0ZM1029.4 458.4A2.2 2.8 -1 0 1 1033.8 458.3ZM966.9 491.4A2.2 2.8 11 0 1 971.3 492.2ZM1154.0 429.4A2.2 2.8 -29 0 1 1157.9 427.2ZM1216.0 464.6A2.2 2.8 -48 0 1 1218.9 461.3ZM1027.2 557.3A2.2 2.8 -11 0 1 1031.5 556.4ZM964.5 523.3A2.2 2.8 0 0 1 968.9 523.3ZM1217.3 528.6A2.2 2.8 -41 0 1 1220.6 525.7ZM1280.7 497.5A2.2 2.8 -51 0 1 1283.5 494.1ZM1086.3 464.0A2.2 2.8 -44 0 1 1089.5 460.9ZM961.6 492.4A2.2 2.8 -13 0 1 965.9 491.4ZM1085.3 432.1A2.2 2.8 -49 0 1 1088.2 428.8ZM1150.7 497.1A2.2 2.8 -48 0 1 1153.7 493.8ZM1084.4 498.0A2.2 2.8 -54 0 1 1086.9 494.4ZM958.7 494.4A2.2 2.8 -29 0 1 962.5 492.3ZM1022.9 560.2A2.2 2.8 -34 0 1 1026.5 557.8ZM959.5 526.4A2.2 2.8 -24 0 1 963.5 524.5ZM1278.4 564.3A2.2 2.8 -62 0 1 1280.5 560.4ZM1209.1 502.1A2.2 2.8 -76 0 1 1210.1 497.9ZM1336.3 471.6A2.2 2.8 -84 0 1 1336.8 467.2ZM1139.6 439.6A2.2 2.8 -85 0 1 1139.9 435.2ZM1075.1 439.2A2.2 2.8 -84 0 1 1075.5 434.8ZM1212.0 598.7A2.2 2.8 -63 0 1 1214.0 594.8ZM1081.3 598.9A2.2 2.8 -64 0 1 1083.2 594.9ZM1339.8 380.3A2.2 2.8 -102 0 1 1338.9 376.0ZM945.4 476.3A2.2 2.8 -96 0 1 944.9 471.9ZM1014.7 445.7A2.2 2.8 -104 0 1 1013.6 441.4ZM1024.6 385.2A2.2 2.8 -137 0 1 1021.4 382.2ZM1079.3 510.6A2.2 2.8 -103 0 1 1078.3 506.3ZM1021.6 449.0A2.2 2.8 -125 0 1 1019.1 445.4ZM1147.9 447.2A2.2 2.8 -112 0 1 1146.3 443.1ZM1213.8 480.1A2.2 2.8 -113 0 1 1212.1 476.0ZM962.9 451.3A2.2 2.8 -153 0 1 959.0 449.3ZM1277.9 479.5A2.2 2.8 -110 0 1 1276.4 475.4ZM1215.7 513.4A2.2 2.8 -119 0 1 1213.5 509.6ZM1029.5 386.7A2.2 2.8 -160 0 1 1025.4 385.1ZM1091.1 450.7A2.2 2.8 -143 0 1 1087.6 448.0ZM1220.4 450.3A2.2 2.8 -138 0 1 1217.2 447.3ZM1156.9 450.9A2.2 2.8 -146 0 1 1153.3 448.4ZM1347.9 449.2A2.2 2.8 -127 0 1 1345.3 445.6ZM1286.1 450.4A2.2 2.8 -140 0 1 1282.7 447.6ZM1284.7 515.0A2.2 2.8 -134 0 1 1281.6 511.8ZM1099.0 387.7A2.2 2.8 -179 0 1 1094.6 387.6ZM1286.4 548.1A2.2 2.8 -142 0 1 1283.0 545.4ZM1097.9 617.1A2.2 2.8 -179 0 1 1093.5 617.0ZM1121.5 470.2A2.2 2.8 91 0 1 1121.4 474.6ZM1251.5 470.5A2.2 2.8 92 0 1 1251.3 474.9ZM1114.4 376.9A2.2 2.8 106 0 1 1113.2 381.1ZM1376.0 498.4A2.2 2.8 79 0 1 1376.9 502.7ZM1119.8 500.7A2.2 2.8 86 0 1 1120.0 505.1ZM1111.4 596.3A2.2 2.8 72 0 1 1112.7 600.4ZM987.1 407.5A2.2 2.8 98 0 1 986.5 411.8ZM1380.3 471.4A2.2 2.8 94 0 1 1379.9 475.8ZM1247.3 440.3A2.2 2.8 100 0 1 1246.6 444.7ZM1244.6 409.6A2.2 2.8 107 0 1 1243.4 413.8ZM1116.3 473.3A2.2 2.8 101 0 1 1115.5 477.6ZM1248.4 564.8A2.2 2.8 84 0 1 1248.9 569.2ZM1374.1 507.8A2.2 2.8 110 0 1 1372.6 511.9ZM1184.0 565.3A2.2 2.8 85 0 1 1184.3 569.6ZM1306.2 444.7A2.2 2.8 121 0 1 1303.9 448.5ZM989.8 566.0A2.2 2.8 87 0 1 990.1 570.3ZM1119.4 565.6A2.2 2.8 86 0 1 1119.7 570.0ZM1242.7 443.4A2.2 2.8 113 0 1 1240.9 447.5ZM1374.8 562.9A2.2 2.8 76 0 1 1375.9 567.2ZM1113.1 410.3A2.2 2.8 110 0 1 1111.5 414.4ZM1114.5 441.8A2.2 2.8 106 0 1 1113.3 446.1ZM1242.1 509.0A2.2 2.8 116 0 1 1240.2 512.9ZM1240.6 477.6A2.2 2.8 122 0 1 1238.2 481.3ZM1114.1 507.2A2.2 2.8 107 0 1 1112.8 511.4ZM1364.0 385.2A2.2 2.8 160 0 1 1359.9 386.7ZM982.0 410.9A2.2 2.8 113 0 1 980.3 414.9ZM1185.9 601.9A2.2 2.8 91 0 1 1185.9 606.3ZM1051.6 538.0A2.2 2.8 100 0 1 1050.8 542.4ZM1366.2 481.3A2.2 2.8 148 0 1 1362.4 483.6ZM989.0 569.1A2.2 2.8 95 0 1 988.6 573.4ZM1239.5 445.9A2.2 2.8 128 0 1 1236.7 449.4ZM981.2 378.9A2.2 2.8 116 0 1 979.3 382.9ZM1301.9 415.5A2.2 2.8 143 0 1 1298.4 418.2ZM1115.9 538.5A2.2 2.8 102 0 1 1115.0 542.8ZM1237.6 480.0A2.2 2.8 138 0 1 1234.3 482.9ZM1044.4 413.0A2.2 2.8 125 0 1 1041.8 416.6ZM1107.9 381.8A2.2 2.8 134 0 1 1104.8 384.9ZM1302.4 545.2A2.2 2.8 140 0 1 1299.1 548.0ZM980.1 412.3A2.2 2.8 121 0 1 977.8 416.1ZM982.5 508.1A2.2 2.8 111 0 1 981.0 512.2ZM1300.0 449.5A2.2 2.8 154 0 1 1296.0 451.4ZM1048.0 540.4A2.2 2.8 110 0 1 1046.5 544.5ZM1113.6 572.7A2.2 2.8 109 0 1 1112.2 576.8ZM1364.9 579.8A2.2 2.8 155 0 1 1360.9 581.6ZM1173.1 446.7A2.2 2.8 134 0 1 1170.1 449.9ZM1236.2 415.9A2.2 2.8 146 0 1 1232.6 418.4ZM1242.3 607.4A2.2 2.8 111 0 1 1240.7 611.5ZM1235.6 514.0A2.2 2.8 150 0 1 1231.8 516.2ZM1235.0 481.9A2.2 2.8 153 0 1 1231.1 483.9ZM1359.8 517.8A2.2 2.8 -180 0 1 1355.4 517.8ZM1043.9 478.5A2.2 2.8 128 0 1 1041.2 481.9ZM1108.6 511.3A2.2 2.8 130 0 1 1105.7 514.7ZM1359.8 550.3A2.2 2.8 -180 0 1 1355.4 550.2ZM1044.7 510.4A2.2 2.8 124 0 1 1042.2 514.0ZM1173.1 544.4A2.2 2.8 134 0 1 1170.0 547.5ZM1233.8 385.2A2.2 2.8 160 0 1 1229.6 386.7ZM1359.8 582.9A2.2 2.8 -179 0 1 1355.4 582.8ZM1106.7 415.2A2.2 2.8 141 0 1 1103.3 418.0ZM1171.0 448.4A2.2 2.8 146 0 1 1167.4 450.8ZM1170.1 384.0A2.2 2.8 151 0 1 1166.2 386.2ZM1107.2 447.3A2.2 2.8 138 0 1 1104.0 450.2ZM1105.8 481.0A2.2 2.8 146 0 1 1102.1 483.5ZM1232.4 483.6A2.2 2.8 167 0 1 1228.2 484.6ZM1295.1 550.2A2.2 2.8 179 0 1 1290.7 550.2ZM977.4 446.9A2.2 2.8 135 0 1 974.3 450.0ZM1042.0 479.9A2.2 2.8 138 0 1 1038.8 482.9ZM1106.3 513.1A2.2 2.8 143 0 1 1102.8 515.7ZM976.9 414.8A2.2 2.8 138 0 1 973.7 417.7ZM1042.6 512.0A2.2 2.8 135 0 1 1039.5 515.1ZM1171.0 578.6A2.2 2.8 146 0 1 1167.3 581.0ZM1295.0 452.6A2.2 2.8 179 0 1 1290.6 452.7ZM1357.7 419.7A2.2 2.8 -170 0 1 1353.4 419.0ZM1168.5 417.6A2.2 2.8 160 0 1 1164.4 419.2ZM1107.0 545.1A2.2 2.8 139 0 1 1103.6 547.9ZM1105.3 448.7A2.2 2.8 149 0 1 1101.5 451.0ZM1295.1 582.7A2.2 2.8 179 0 1 1290.7 582.8ZM1229.8 517.7A2.2 2.8 179 0 1 1225.4 517.8ZM1103.8 482.4A2.2 2.8 157 0 1 1099.8 484.1ZM1229.8 485.2A2.2 2.8 179 0 1 1225.4 485.3ZM1229.9 582.8A2.2 2.8 179 0 1 1225.5 582.8ZM1040.4 481.2A2.2 2.8 148 0 1 1036.6 483.6ZM1356.1 386.9A2.2 2.8 -163 0 1 1351.9 385.6ZM1167.6 548.4A2.2 2.8 165 0 1 1163.3 549.5ZM1355.9 419.3A2.2 2.8 -162 0 1 1351.7 417.9ZM1041.4 545.4A2.2 2.8 142 0 1 1038.0 548.1ZM1229.8 452.6A2.2 2.8 179 0 1 1225.4 452.7ZM1166.4 386.5A2.2 2.8 170 0 1 1162.1 387.2ZM1292.7 419.7A2.2 2.8 -171 0 1 1288.4 419.1ZM1166.6 418.9A2.2 2.8 170 0 1 1162.2 419.7ZM1103.4 450.1A2.2 2.8 159 0 1 1099.3 451.6ZM1229.0 616.9A2.2 2.8 178 0 1 1224.6 617.0ZM1291.3 582.1A2.2 2.8 -164 0 1 1287.1 580.9ZM1167.2 516.1A2.2 2.8 166 0 1 1163.0 517.1ZM1226.8 517.2A2.2 2.8 -168 0 1 1222.5 516.2ZM1101.6 483.9A2.2 2.8 169 0 1 1097.2 484.7ZM1227.1 484.7A2.2 2.8 -169 0 1 1222.8 483.9ZM1037.6 385.6A2.2 2.8 163 0 1 1033.4 386.9ZM1037.8 417.9A2.2 2.8 162 0 1 1033.7 419.3ZM1101.0 386.6A2.2 2.8 171 0 1 1096.7 387.3ZM1289.0 548.9A2.2 2.8 -154 0 1 1285.1 547.0ZM974.5 449.1A2.2 2.8 151 0 1 970.6 451.2ZM1101.8 516.2A2.2 2.8 167 0 1 1097.5 517.2ZM1354.5 386.4A2.2 2.8 -155 0 1 1350.5 384.6ZM974.1 416.9A2.2 2.8 153 0 1 970.2 418.8ZM975.4 513.5A2.2 2.8 146 0 1 971.7 516.0ZM1351.9 548.3A2.2 2.8 -143 0 1 1348.4 545.6ZM1163.4 617.1A2.2 2.8 180 0 1 1159.0 617.1ZM1164.3 582.9A2.2 2.8 180 0 1 1159.9 582.9ZM1164.3 550.3A2.2 2.8 180 0 1 1159.9 550.3ZM1290.4 451.7A2.2 2.8 -160 0 1 1286.3 450.2ZM1227.6 387.3A2.2 2.8 -171 0 1 1223.3 386.6ZM1290.0 484.2A2.2 2.8 -158 0 1 1285.9 482.6ZM1039.3 547.0A2.2 2.8 154 0 1 1035.4 548.9ZM975.9 545.6A2.2 2.8 143 0 1 972.4 548.3ZM976.6 577.7A2.2 2.8 140 0 1 973.2 580.6ZM1226.5 549.6A2.2 2.8 -166 0 1 1222.2 548.5ZM1227.3 452.2A2.2 2.8 -170 0 1 1223.0 451.4ZM973.8 384.6A2.2 2.8 155 0 1 969.8 386.4ZM1101.2 419.0A2.2 2.8 171 0 1 1096.8 419.7ZM1164.3 452.7A2.2 2.8 180 0 1 1159.9 452.7ZM1291.0 386.9A2.2 2.8 -163 0 1 1286.8 385.6ZM1164.3 387.7A2.2 2.8 180 0 1 1159.9 387.7ZM1290.7 419.3A2.2 2.8 -162 0 1 1286.6 417.9ZM1102.1 548.5A2.2 2.8 166 0 1 1097.8 549.6ZM1227.5 419.7A2.2 2.8 -171 0 1 1223.1 419.0ZM1101.4 451.4A2.2 2.8 170 0 1 1097.0 452.2ZM1164.3 517.8A2.2 2.8 180 0 1 1159.9 517.8Z" fill="#BE3E12" stroke="none"/>
<path d="M1188.8 471.8L1186.5 473.1L1184.6 474.2L1183.0 475.1L1181.5 475.9L1180.3 476.7L1179.2 477.4L1178.2 478.0L1177.3 478.6L1176.4 479.1L1175.6 479.6L1174.8 480.1L1174.1 480.5L1173.4 481.0L1172.7 481.4L1172.1 481.8L1171.4 482.1L1170.8 482.5L1170.1 482.8L1169.5 483.2L1168.8 483.5L1168.2 483.8L1167.6 484.1L1166.9 484.4L1166.3 484.7L1165.6 485.0L1165.0 485.2L1164.3 485.5L1163.6 485.8L1162.8 486.0L1162.1 486.3L1161.4 486.0L1160.6 485.8L1159.9 485.5L1159.2 485.2L1158.6 485.0L1157.9 484.7L1157.3 484.4L1156.6 484.1L1156.0 483.8L1155.4 483.5L1154.7 483.2L1154.1 482.8L1153.4 482.5L1152.8 482.1L1152.1 481.8L1151.5 481.4L1150.8 481.0L1150.1 480.5L1149.4 480.1L1148.6 479.6L1147.8 479.1L1146.9 478.6L1146.0 478.0L1145.0 477.4L1143.9 476.7L1142.7 475.9L1141.2 475.1L1139.6 474.2L1137.7 473.1L1135.4 471.8L1137.7 470.5L1139.6 469.4L1141.2 468.5L1142.7 467.7L1143.9 466.9L1145.0 466.2L1146.0 465.6L1146.9 465.0L1147.8 464.5L1148.6 464.0L1149.4 463.5L1150.1 463.1L1150.8 462.6L1151.5 462.2L1152.1 461.8L1152.8 461.5L1153.4 461.1L1154.1 460.8L1154.7 460.4L1155.4 460.1L1156.0 459.8L1156.6 459.5L1157.3 459.2L1157.9 458.9L1158.6 458.6L1159.2 458.4L1159.9 458.1L1160.6 457.8L1161.4 457.6L1162.1 457.3L1162.8 457.6L1163.6 457.8L1164.3 458.1L1165.0 458.4L1165.6 458.6L1166.3 458.9L1166.9 459.2L1167.6 459.5L1168.2 459.8L1168.8 460.1L1169.5 460.4L1170.1 460.8L1170.8 461.1L1171.4 461.5L1172.1 461.8L1172.7 462.2L1173.4 462.6L1174.1 463.1L1174.8 463.5L1175.6 464.0L1176.4 464.5L1177.3 465.0L1178.2 465.6L1179.2 466.2L1180.3 466.9L1181.5 467.7L1183.0 468.5L1184.6 469.4L1186.5 470.5Z" fill="none" stroke="#BE3E12" stroke-width="2" stroke-linejoin="round"/>
<g font-family='"Liberation Sans", Arial, Helvetica, sans-serif' fill="#000">
<text x="1067.2" y="111.4" font-size="15" text-anchor="middle">Octacosane</text>
<text x="1133.8" y="98.3" font-size="15" text-anchor="middle">Cedrol</text>
<text x="1189.9" y="98.3" font-size="15" text-anchor="middle">Cyanin</text>
<text x="1253.9" y="110.4" font-size="15" text-anchor="middle">TAU</text>
<text x="1304.4" y="126.7" font-size="15" text-anchor="start">Cumalic acid</text>
<text x="1393.5" y="158.5" font-size="15" text-anchor="start">Cis-decane</text>
<text x="1431.7" y="217.6" font-size="15" text-anchor="start">19435-97-3</text>
<text x="1516.6" y="247.8" font-size="15" text-anchor="middle">Aminoethyl</text>
<text x="1516.6" y="266.9" font-size="15" text-anchor="middle">thiosulfite</text>
<text x="1506.7" y="299.7" font-size="15" text-anchor="start">Delta-amorphene</text>
<text x="1533.4" y="347.8" font-size="15" text-anchor="start">Ipolamiide_qt</text>
<text x="1552.5" y="401.2" font-size="15" text-anchor="start">Naphthalene</text>
<text x="1556.7" y="465.5" font-size="15" text-anchor="start">Cyclohexene</text>
<text x="1554.1" y="527.8" font-size="15" text-anchor="start">Citric acid</text>
<text x="1542.4" y="591.4" font-size="15" text-anchor="start">Zederone</text>
<text x="1521.0" y="647.6" font-size="15" text-anchor="start">Myristic acid</text>
<text x="1490.8" y="702.3" font-size="15" text-anchor="start">Sitosterol alpha1</text>
<text x="1466.3" y="750.4" font-size="15" text-anchor="start">Nicotinic acid</text>
<text x="1423.7" y="810.5" font-size="15" text-anchor="start">Cis-p-Coumarate</text>
<text x="1355.6" y="855.0" font-size="15" text-anchor="start">1,6-dimethyldecalin</text>
<text x="1293.5" y="869.3" font-size="15" text-anchor="middle">Scopoletol</text>
<text x="1225.4" y="883.6" font-size="15" text-anchor="middle">PEY</text>
<text x="1159.4" y="883.6" font-size="15" text-anchor="middle">CIR</text>
<text x="1099.9" y="881.4" font-size="15" text-anchor="middle">EIC</text>
<text x="1035.4" y="868.7" font-size="15" text-anchor="middle">Physcion</text>
<text x="988.6" y="848.6" font-size="15" text-anchor="end">Trans-decane</text>
<text x="906.2" y="813.0" font-size="15" text-anchor="end">2-Pyridylamine</text>
<text x="815.3" y="742.1" font-size="15" text-anchor="middle">Hexadecenoic</text>
<text x="815.3" y="760.9" font-size="15" text-anchor="middle">acid</text>
<text x="780.6" y="692.8" font-size="15" text-anchor="middle">Methyl</text>
<text x="780.6" y="711.2" font-size="15" text-anchor="middle">linolelaidate</text>
<text x="798.4" y="652.4" font-size="15" text-anchor="end">Farnesylacetone</text>
<text x="770.4" y="597.8" font-size="15" text-anchor="end">2,3-dimethyldecalin</text>
<text x="765.3" y="537.3" font-size="15" text-anchor="end">Ethanone</text>
<text x="762.8" y="476.9" font-size="15" text-anchor="end">Tetradecane</text>
<text x="770.4" y="417.7" font-size="15" text-anchor="end">Mandenol</text>
<text x="786.6" y="359.9" font-size="15" text-anchor="end">Copaene</text>
<text x="812.4" y="312.1" font-size="15" text-anchor="end">Methylluteolin</text>
<text x="846.7" y="255.2" font-size="15" text-anchor="end">Hypogaeic acid</text>
<text x="888.1" y="212.2" font-size="15" text-anchor="end">14b-pregnane</text>
<text x="936.8" y="155.3" font-size="15" text-anchor="end">Vitamin c</text>
<text x="1027.4" y="127.3" font-size="15" text-anchor="end">Pentadecylic acid</text>
<text x="1092.9" y="205.8" font-size="15" text-anchor="middle">DBP</text>
<text x="1162.3" y="198.2" font-size="15" text-anchor="middle">Betaine</text>
<text x="1231.6" y="205.8" font-size="15" text-anchor="middle">Lauric acid</text>
<text x="1297.1" y="223.0" font-size="15" text-anchor="middle">Benzene</text>
<text x="1353.1" y="260.2" font-size="15" text-anchor="middle">Azaron</text>
<text x="1405.6" y="315.8" font-size="15" text-anchor="middle">Linoleic</text>
<text x="1442.8" y="374.8" font-size="15" text-anchor="middle">Ethyl anisate</text>
<text x="1465.7" y="434.2" font-size="15" text-anchor="middle">Ethyl p-toluate</text>
<text x="1473.7" y="506.8" font-size="16.7" font-weight="bold" text-anchor="middle">Rutin</text>
<text x="1465.7" y="568.5" font-size="16.7" font-weight="bold" text-anchor="middle">Stigmasterol</text>
<text x="1442.8" y="634.9" font-size="16.7" font-weight="bold" text-anchor="middle">Paeonol</text>
<text x="1405.6" y="699.1" font-size="16.7" font-weight="bold" text-anchor="middle">Atropine</text>
<text x="1356.3" y="750.6" font-size="16.7" font-weight="bold" text-anchor="middle">Beta-sitosterol</text>
<text x="1297.1" y="794.2" font-size="16.7" font-weight="bold" text-anchor="middle">Phenol</text>
<text x="1231.6" y="813.9" font-size="16.7" font-weight="bold" text-anchor="middle">OXL</text>
<text x="1162.3" y="824.7" font-size="16.7" font-weight="bold" text-anchor="middle">Quercetin</text>
<text x="1093.2" y="813.9" font-size="15" text-anchor="middle">Scopolin</text>
<text x="1020.1" y="792.9" font-size="15" text-anchor="middle">Methyl palmitate</text>
<text x="967.9" y="754.1" font-size="15" text-anchor="middle">Crystal VI</text>
<text x="918.9" y="704.5" font-size="15" text-anchor="middle">Glycitein</text>
<text x="872.2" y="650.8" font-size="15" text-anchor="middle">MLT</text>
<text x="860.4" y="584.4" font-size="15" text-anchor="middle">Tetracosane</text>
<text x="851.2" y="509.9" font-size="15" text-anchor="middle">DGN</text>
<text x="858.5" y="440.9" font-size="15" text-anchor="middle">Safrol</text>
<text x="881.7" y="375.4" font-size="15" text-anchor="middle">EUG</text>
<text x="915.8" y="309.4" font-size="15" text-anchor="middle">Lupeol</text>
<text x="966.4" y="266.2" font-size="15" text-anchor="middle">Gamma-aminobutyric</text>
<text x="966.4" y="284.8" font-size="15" text-anchor="middle">acid</text>
<text x="1027.4" y="226.2" font-size="15" text-anchor="middle">Palmitic acid</text>
<text x="966.6" y="379.2" font-size="14" text-anchor="middle">MAPK1</text>
<text x="1031.8" y="379.2" font-size="14" text-anchor="middle">AKT1</text>
<text x="1096.9" y="379.2" font-size="14" text-anchor="middle">ALDH5A1</text>
<text x="1162.1" y="379.2" font-size="14" text-anchor="middle">PARP1</text>
<text x="1227.4" y="379.2" font-size="14" text-anchor="middle">HMOX1</text>
<text x="1292.6" y="379.2" font-size="14" text-anchor="middle">NQO1</text>
<text x="1357.7" y="379.2" font-size="14" text-anchor="middle">CYP1A1</text>
<text x="966.6" y="411.7" font-size="14" text-anchor="middle">DRD1</text>
<text x="1031.8" y="411.7" font-size="14" text-anchor="middle">ALDH2</text>
<text x="1096.9" y="411.7" font-size="14" text-anchor="middle">NDUFS1</text>
<text x="1162.1" y="411.7" font-size="14" text-anchor="middle">PKLR</text>
<text x="1227.4" y="411.7" font-size="14" text-anchor="middle">SLC22A5</text>
<text x="1292.6" y="411.7" font-size="14" text-anchor="middle">PDHB</text>
<text x="1357.7" y="411.7" font-size="14" text-anchor="middle">HTR1B</text>
<text x="966.6" y="444.2" font-size="14" text-anchor="middle">CASP3</text>
<text x="1031.8" y="444.2" font-size="14" text-anchor="middle">FH</text>
<text x="1096.9" y="445.5" font-size="17.5" font-weight="bold" text-anchor="middle">SLC6A3</text>
<text x="1162.1" y="445.1" font-size="16.4" font-weight="bold" text-anchor="middle">NOS1</text>
<text x="1227.4" y="445.4" font-size="17.3" font-weight="bold" text-anchor="middle">MAOB</text>
<text x="1292.6" y="444.2" font-size="14" text-anchor="middle">GSTP1</text>
<text x="1357.7" y="444.2" font-size="14" text-anchor="middle">OPRM1</text>
<text x="966.6" y="476.8" font-size="14" text-anchor="middle">ESR2</text>
<text x="1031.8" y="476.8" font-size="14" text-anchor="middle">CASP9</text>
<text x="1095.6" y="477.9" font-size="17.0" font-weight="bold" text-anchor="middle">ADRB1</text>
<text x="1162.1" y="478.5" font-size="18.7" font-weight="bold" text-anchor="middle">PTGS2</text>
<text x="1227.1" y="478.1" font-size="17.5" font-weight="bold" text-anchor="middle">ADRB2</text>
<text x="1292.6" y="476.8" font-size="14" text-anchor="middle">HTR2A</text>
<text x="1357.7" y="476.8" font-size="14" text-anchor="middle">IL1B</text>
<text x="966.6" y="509.3" font-size="14" text-anchor="middle">DRD2</text>
<text x="1031.8" y="509.3" font-size="14" text-anchor="middle">GRIN2A</text>
<text x="1095.4" y="510.3" font-size="16.7" font-weight="bold" text-anchor="middle">CHRNA7</text>
<text x="1162.1" y="509.3" font-size="14" text-anchor="middle">TNF</text>
<text x="1226.9" y="510.6" font-size="17.5" font-weight="bold" text-anchor="middle">ADH1C</text>
<text x="1292.6" y="509.3" font-size="14" text-anchor="middle">SDHA</text>
<text x="1357.7" y="509.3" font-size="14" text-anchor="middle">BCHE</text>
<text x="966.6" y="541.8" font-size="14" text-anchor="middle">IL6</text>
<text x="1031.8" y="541.8" font-size="14" text-anchor="middle">HTR2C</text>
<text x="1096.9" y="541.8" font-size="14" text-anchor="middle">PYGM</text>
<text x="1162.1" y="541.8" font-size="14" text-anchor="middle">GSTM1</text>
<text x="1227.4" y="541.8" font-size="14" text-anchor="middle">INSR</text>
<text x="1292.6" y="541.8" font-size="14" text-anchor="middle">ATP13A2</text>
<text x="1357.7" y="541.8" font-size="14" text-anchor="middle">DRD5</text>
<text x="966.6" y="574.4" font-size="14" text-anchor="middle">INS</text>
<text x="1031.8" y="574.4" font-size="14" text-anchor="middle">HMGCR</text>
<text x="1096.9" y="574.4" font-size="14" text-anchor="middle">MAOA</text>
<text x="1162.1" y="574.4" font-size="14" text-anchor="middle">GRIN2B</text>
<text x="1227.4" y="574.4" font-size="14" text-anchor="middle">AR</text>
<text x="1292.6" y="574.4" font-size="14" text-anchor="middle">TGFB1</text>
<text x="1357.7" y="574.4" font-size="14" text-anchor="middle">MAP2</text>
<text x="1095.9" y="608.6" font-size="14" text-anchor="middle">CRAT</text>
<text x="1161.1" y="608.6" font-size="14" text-anchor="middle">GLRA1</text>
<text x="1226.4" y="608.6" font-size="14" text-anchor="middle">SOD1</text>
</g>
</svg></body></html>
